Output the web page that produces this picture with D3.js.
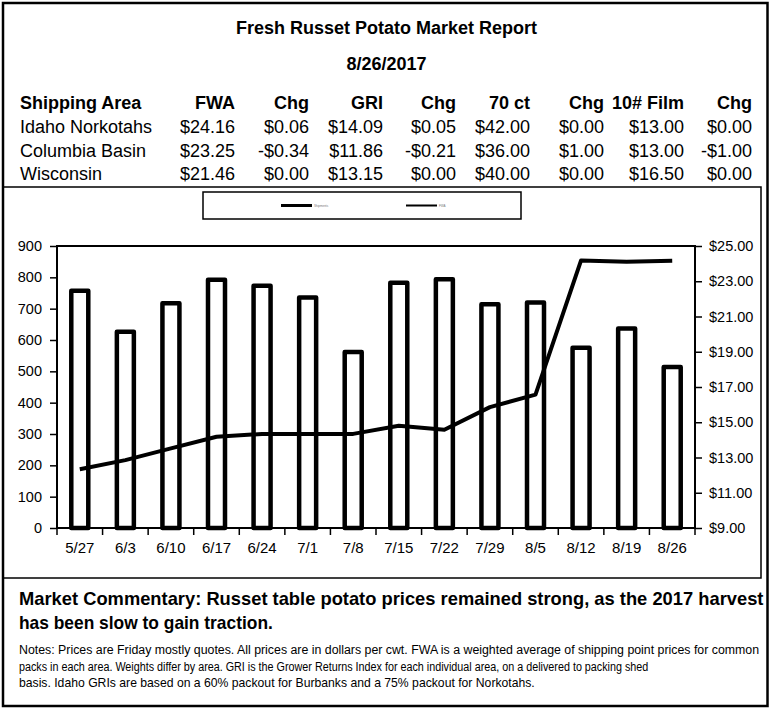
<!DOCTYPE html>
<html>
<head>
<meta charset="utf-8">
<script src="https://cdn.jsdelivr.net/npm/d3@7"></script>
<style>
  html, body { margin: 0; padding: 0; background: #fff; }
  svg { display: block; font-family: "Liberation Sans", Arial, sans-serif; }
</style>
</head>
<body>
<svg id="chart" width="772" height="712"></svg>
<script>
// ---- data ----
const dates = ["5/27","6/3","6/10","6/17","6/24","7/1","7/8","7/15","7/22","7/29","8/5","8/12","8/19","8/26"];
const volume = [757, 626, 717, 792, 773, 736, 562, 783, 794, 714, 720, 575, 637, 514];
const fwaPrice = [12.33, 12.85, 13.52, 14.18, 14.34, 14.34, 14.34, 14.8, 14.57, 15.86, 16.57, 24.18, 24.1, 24.16];
const leftTicks = [0,100,200,300,400,500,600,700,800,900];
const rightTicks = [9,11,13,15,17,19,21,23,25];

const tableHeader = ["Shipping Area","FWA","Chg","GRI","Chg","70 ct","Chg","10# Film","Chg"];
const areas = ["Idaho Norkotahs","Columbia Basin","Wisconsin"];
const fwa = ["$24.16","$23.25","$21.46"];
const fwaChg = ["$0.06","-$0.34","$0.00"];
const gri = ["$14.09","$11.86","$13.15"];
const griChg = ["$0.05","-$0.21","$0.00"];
const ct70 = ["$42.00","$36.00","$40.00"];
const ct70Chg = ["$0.00","$1.00","$0.00"];
const film10 = ["$13.00","$13.00","$16.50"];
const film10Chg = ["$0.00","-$1.00","$0.00"];
const legendLabels = ["Shipments","FWA"];

const title = "Fresh Russet Potato Market Report";
const reportDate = "8/26/2017";
const commentary = ["Market Commentary: Russet table potato prices remained strong, as the 2017 harvest",
                    "has been slow to gain traction."];
const notes = ["Notes: Prices are Friday mostly quotes. All prices are in dollars per cwt. FWA is a weighted average of shipping point prices for  common",
               "packs in each area. Weights differ by area. GRI is the Grower Returns Index for each individual area, on a delivered to packing shed",
               "basis. Idaho GRIs are based on a 60% packout for Burbanks and a 75% packout for Norkotahs."];

// ---- drawing ----
const svg = d3.select("#chart");

// frames
svg.append("rect").attr("x",3).attr("y",3).attr("width",764.5).attr("height",703)
  .attr("fill","none").attr("stroke","#000").attr("stroke-width",2.5);
svg.append("rect").attr("x",3).attr("y",187).attr("width",758).attr("height",391)
  .attr("fill","none").attr("stroke","#000").attr("stroke-width",1.5);

// title
svg.append("text").attr("x",386.5).attr("y",34).attr("text-anchor","middle")
  .attr("font-size",18).attr("font-weight","bold").text(title);
svg.append("text").attr("x",386.5).attr("y",70).attr("text-anchor","middle")
  .attr("font-size",18).attr("font-weight","bold").text(reportDate);

// table
const colRight = [null,235,309,383,456,530,604,684,752];
const rowsY = [133,157,180];
const headerY = 109;
tableHeader.forEach((h,i)=>{
  svg.append("text").attr("x", i===0 ? 20 : colRight[i]).attr("y",headerY)
    .attr("text-anchor", i===0 ? "start" : "end")
    .attr("font-size",18).attr("font-weight","bold").text(h);
});
const cols = [areas,fwa,fwaChg,gri,griChg,ct70,ct70Chg,film10,film10Chg];
areas.forEach((a,r)=>{
  cols.forEach((c,i)=>{
    svg.append("text").attr("x", i===0 ? 20 : colRight[i]).attr("y",rowsY[r])
      .attr("text-anchor", i===0 ? "start" : "end")
      .attr("font-size",18).text(c[r]);
  });
});

// legend
const lg = svg.append("g");
lg.append("rect").attr("x",203).attr("y",192).attr("width",318).attr("height",27)
  .attr("fill","#fff").attr("stroke","#000").attr("stroke-width",1.5);
lg.append("line").attr("x1",281).attr("x2",312).attr("y1",205.5).attr("y2",205.5)
  .attr("stroke","#000").attr("stroke-width",3);
lg.append("text").attr("x",314).attr("y",206.5).attr("font-size",3).attr("fill","#777").text(legendLabels[0]);
lg.append("line").attr("x1",406).attr("x2",437).attr("y1",205.5).attr("y2",205.5)
  .attr("stroke","#000").attr("stroke-width",2);
lg.append("text").attr("x",439).attr("y",206.5).attr("font-size",3).attr("fill","#777").text(legendLabels[1]);

// plot
const L = 57, R = 695, T = 246, B = 528;
const x = d3.scaleBand().domain(dates).range([L,R]).padding(0);
const yL = d3.scaleLinear().domain([0,900]).range([B,T]);
const yR = d3.scaleLinear().domain([9,25]).range([B,T]);

// bars
const barW = 17;
svg.append("g").selectAll("rect").data(dates).join("rect")
  .attr("x", d => x(d) + x.bandwidth()/2 - barW/2)
  .attr("y", (d,i) => yL(volume[i]))
  .attr("width", barW)
  .attr("height", (d,i) => yL(0) - yL(volume[i]))
  .attr("fill","#fff").attr("stroke","#000").attr("stroke-width",4.5)
  .attr("stroke-linejoin","round");

// plot border
svg.append("rect").attr("x",L).attr("y",T).attr("width",R-L).attr("height",B-T)
  .attr("fill","none").attr("stroke","#000").attr("stroke-width",2);

// line
const line = d3.line()
  .x((d,i) => x(dates[i]) + x.bandwidth()/2)
  .y(d => yR(d))
  .curve(d3.curveLinear);
svg.append("path").datum(fwaPrice).attr("d", line)
  .attr("fill","none").attr("stroke","#000").attr("stroke-width",4)
  .attr("stroke-linejoin","round").attr("stroke-linecap","butt");

// axes
const axL = svg.append("g").attr("transform",`translate(${L},0)`)
  .call(d3.axisLeft(yL).tickValues(leftTicks).tickSize(7).tickPadding(8).tickFormat(d3.format("d")));
const axR = svg.append("g").attr("transform",`translate(${R},0)`)
  .call(d3.axisRight(yR).tickValues(rightTicks).tickSize(7).tickPadding(7).tickFormat(d => "$" + d.toFixed(2)));
const axB = svg.append("g").attr("transform",`translate(0,${B})`)
  .call(d3.axisBottom(x).tickSize(0).tickPadding(14));
[axL,axR,axB].forEach(a => {
  a.select(".domain").remove();
  a.selectAll("text").attr("font-family","Liberation Sans, Arial, sans-serif").attr("font-size",14.5).attr("fill","#000");
  a.selectAll(".tick line").attr("stroke","#000").attr("stroke-width",1.5);
});
axB.selectAll("text").attr("font-size",15);
// category boundary ticks
const bounds = dates.map(d => x(d)).concat([R]);
svg.append("g").selectAll("line").data(bounds).join("line")
  .attr("x1", d => d).attr("x2", d => d).attr("y1", B).attr("y2", B + 7)
  .attr("stroke","#000").attr("stroke-width",1.5);

// condensed text lines: drawn at natural width, then scaled horizontally to the target width
function condensedLine(str, y, size, weight, targetW) {
  const g = svg.append("g");
  const t = g.append("text").attr("x",0).attr("y",0).attr("font-size",size)
    .attr("font-weight",weight).text(str);
  const natural = t.node().getComputedTextLength();
  const s = Math.min(1, targetW / natural);
  g.attr("transform", `translate(19,${y}) scale(${s},1)`);
}
const cw = [745, 254];
commentary.forEach((t,i)=> condensedLine(t, 605 + i*24, 18.5, "bold", cw[i]));
const nw = [741, 630, 516];
notes.forEach((t,i)=> condensedLine(t, 654 + i*16.5, 13.5, "normal", nw[i]));
</script>
</body>
</html>
